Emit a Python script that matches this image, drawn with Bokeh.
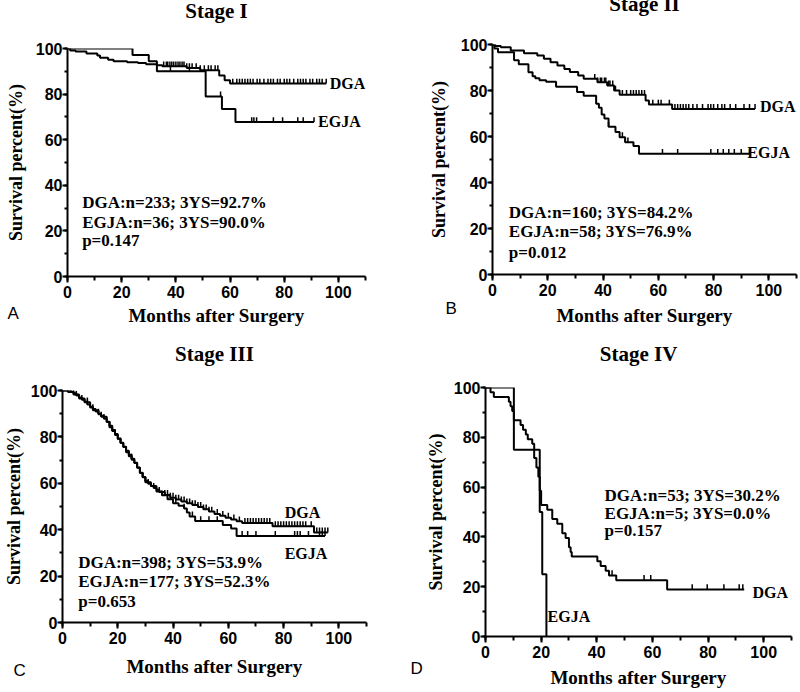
import numpy as np
from bokeh.plotting import figure
from bokeh.models import Range1d, SingleIntervalTicker, FixedTicker, Label, LinearAxis, Title
from bokeh.layouts import column, row
from bokeh.embed import file_html
from bokeh.resources import INLINE

# ---------------- data ----------------
# Stage I
a_dga_t = [0, 1, 3, 7, 11, 12, 15, 17, 22, 26, 29, 33, 35, 44, 49, 56, 58, 60, 95.5]
a_dga_s = [100, 99.1, 98.7, 97.8, 96.9, 95.9, 95.1, 94.4, 94.0, 93.6, 93.1, 92.7, 92.2, 91.4, 90.5, 88.2, 86.1, 84.6, 84.6]
a_dga_c = [35.5, 36.5, 37, 37.8, 38.5, 39.2, 40, 40.8, 41.5, 42.3, 43, 44, 45, 46, 47.5, 49, 50.5, 52, 53,
           54.5, 55.5, 61, 62.5, 63.5, 64.5, 65.5, 66.5, 67.5, 68.5, 70, 71, 72.5, 74, 75, 76, 77.5, 78.5,
           80, 81, 82, 83.5, 85, 86, 87, 88, 89.5, 90.5, 92, 93, 94, 95.5]
a_egja_t = [0, 24, 30, 33, 51, 57, 62, 91]
a_egja_s = [100, 97.2, 94.4, 90.0, 79.0, 73.5, 67.8, 67.8]
a_egja_c = [38, 45, 56.5, 68, 68.8, 69.8, 76, 79.4, 85, 87, 91]

# Stage II
b_dga_t = [0, 1, 3, 6.6, 11.4, 16.2, 18.6, 21, 23.5, 26, 28, 31, 33, 38, 41.5, 44, 46, 55.4, 56.6, 65, 95]
b_dga_s = [100, 99.4, 98.8, 97.4, 96.2, 95.2, 93.8, 92.3, 90.9, 89.4, 88.0, 86.5, 85.1, 83.6, 82.2, 80.0,
           78.1, 75.7, 73.9, 72.0, 72.0]
b_dga_c = [37, 38, 39, 39.5, 40.5, 41, 42, 42.5, 43.5, 44.5, 47, 48.5, 50, 51, 52, 53, 54, 55, 58, 60, 61,
           64, 66, 67, 68, 69, 70, 71, 72.5, 74, 76, 78, 79, 80, 81.5, 83, 84, 86, 88, 91, 93, 95]
b_egja_t = [0, 0.7, 2, 7.8, 9.5, 13, 14.5, 15.5, 17, 19.4, 23, 30.6, 33, 37.5, 38.5, 39.5, 40.5, 42, 44.5,
            46, 48, 51, 53, 55.4, 93]
b_egja_s = [100, 98.3, 96.6, 93.1, 91.4, 87.9, 86.2, 85.3, 84.5, 83.8, 81.6, 79.4, 77.7, 74.2, 72.5, 69.6,
            67.8, 64.2, 62.0, 59.7, 57.5, 55.9, 52.5, 52.5, 52.5]
b_egja_c = [42, 47, 48, 49, 61.5, 67, 79, 81.5, 83.5, 85.5, 87.5, 90, 93]

# Stage III
c_dga_t = [0, 3, 4, 5, 6, 7, 8, 9, 10, 11, 12, 13, 14, 15, 16, 17, 18, 19, 20, 21, 22, 23, 24, 25, 26, 27,
           28, 29, 30, 31, 32, 33, 34, 35, 37, 39, 41, 43, 45, 47, 49, 51, 53, 55, 57, 59, 61, 63, 65, 76,
           91, 96]
c_dga_s = [100, 99.5, 98.8, 97.8, 97.0, 96.0, 95.0, 94.0, 93.0, 92.0, 91.0, 90.0, 89.0, 87.8, 86.5, 84.8,
           83.0, 81.2, 79.3, 77.5, 75.8, 74.0, 72.3, 70.6, 68.8, 66.8, 64.6, 62.6, 61.0, 59.8, 58.8, 58.0,
           57.2, 56.3, 55.0, 53.8, 53.0, 52.2, 51.4, 50.6, 49.8, 48.8, 47.8, 46.8, 46.0, 45.2, 44.4, 43.6,
           42.9, 41.5, 38.8, 38.8]
c_dga_c = [3, 5, 7, 9, 11, 13, 15, 17, 19, 21, 23, 25, 27, 29, 31, 33, 35, 37, 38, 39, 40, 41, 42, 43, 44,
           45, 46, 47, 48, 49, 50, 51, 52, 53, 54, 56, 58, 60, 62, 64, 66, 67, 68, 69, 70, 71, 72, 73, 74,
           75, 77, 78, 79, 80, 81, 82, 83, 84, 85, 86, 87, 88, 90, 92, 93, 94, 95, 96]
c_egja_t = [0, 2, 4, 6, 8, 10, 11, 13, 14, 16, 17, 18, 19, 20, 21, 22, 23, 24, 25, 26, 27, 28, 29, 30, 32,
            34, 36, 38, 40, 42, 44, 45, 46, 48, 58, 61, 63, 95]
c_egja_s = [100, 99.4, 98.3, 96.6, 94.9, 92.7, 91.5, 89.8, 88.7, 86.4, 84.2, 82.5, 80.8, 79.1, 77.4, 75.7,
            73.4, 71.7, 70.1, 68.9, 66.7, 64.4, 62.7, 60.5, 58.8, 56.5, 54.8, 53.1, 51.4, 50.3, 49.1, 47.4,
            45.7, 43.7, 42.0, 40.5, 37.3, 37.3]
c_egja_c = [4, 9, 14, 18, 24, 30, 36, 41, 44, 47, 50, 53, 56, 65, 67, 70, 77, 84, 85, 86, 89, 93, 94, 95]

# Stage IV
d_dga_t = [0, 1.8, 3, 8.4, 9, 9.6, 10.2, 12.6, 13.5, 14.5, 15.2, 16.8, 17.5, 18.3, 19, 19.5, 20, 22.2, 24,
           25.8, 27.6, 28.8, 30, 30.6, 31, 40.2, 41.4, 43.2, 44.4, 47, 65.3, 93]
d_dga_s = [100, 98.1, 96.2, 94.3, 92.5, 90.6, 86.8, 84.9, 83.0, 81.1, 79.2, 77.4, 71.7, 67.9, 64.2, 58.5,
           52.8, 50.9, 47.2, 45.3, 41.5, 39.6, 35.8, 33.9, 32.1, 30.2, 28.3, 26.4, 24.5, 22.6, 18.9, 18.9]
d_dga_c = [45.5, 57, 59.4, 74.3, 79.7, 85.7, 91.2, 92.5]
d_egja_t = [0, 10.2, 19.5, 20.4, 21.9]
d_egja_s = [100, 75, 50, 25, 0]
d_egja_c = []

titles = ["Stage I", "Stage II", "Stage III", "Stage IV"]
letters = ["A", "B", "C", "D"]
stats = [
    ["DGA:n=233; 3YS=92.7%", "EGJA:n=36; 3YS=90.0%", "p=0.147"],
    ["DGA:n=160; 3YS=84.2%", "EGJA:n=58; 3YS=76.9%", "p=0.012"],
    ["DGA:n=398; 3YS=53.9%", "EGJA:n=177; 3YS=52.3%", "p=0.653"],
    ["DGA:n=53; 3YS=30.2%", "EGJA:n=5; 3YS=0.0%", "p=0.157"],
]
x_label = "Months after Surgery"
y_label = "Survival percent(%)"

SERIF = "Liberation Serif"
SANS = "Liberation Sans"


def surv_at(times, surv, pts):
    times = np.asarray(times, dtype=float)
    surv = np.asarray(surv, dtype=float)
    idx = np.searchsorted(times, np.asarray(pts, dtype=float), side="right") - 1
    idx = np.clip(idx, 0, len(surv) - 1)
    return surv[idx]


def panel(w, h, borders, ylab_standoff, xlab_standoff, spacer_standoff, title_standoff, curves, title,
          letter, letter_offset, letter_standoff, stat_lines, stat_x, stat_ys, dga_pos, egja_pos,
          tick_len=2.1):
    left, right, top, bottom = borders
    p = figure(width=w, height=h, x_range=Range1d(0, 110), y_range=Range1d(0, 100),
               output_backend="svg", toolbar_location=None,
               min_border_left=left, min_border_right=right, min_border_top=top,
               min_border_bottom=bottom)
    p.outline_line_color = None
    p.grid.visible = False
    p.background_fill_color = "white"
    p.border_fill_color = "white"

    p.xaxis.ticker = SingleIntervalTicker(interval=20, num_minor_ticks=2)
    p.yaxis.ticker = SingleIntervalTicker(interval=20, num_minor_ticks=2)
    for ax in (p.xaxis[0], p.yaxis[0]):
        ax.axis_line_width = 2
        ax.axis_line_color = "black"
        ax.major_tick_line_width = 2
        ax.minor_tick_line_width = 2
        ax.major_tick_line_color = "black"
        ax.minor_tick_line_color = "black"
        ax.major_tick_in = 0
        ax.minor_tick_in = 0
        ax.major_label_text_font = SANS
        ax.major_label_text_font_style = "bold"
        ax.major_label_text_font_size = "16px"
        ax.major_label_text_color = "black"
        ax.axis_label_text_font = SERIF
        ax.axis_label_text_font_style = "bold"
        ax.axis_label_text_color = "black"
    p.xaxis.axis_label_text_font_size = "19px"
    p.yaxis.axis_label_text_font_size = "18px"
    p.xaxis.major_tick_out = 6
    p.xaxis.minor_tick_out = 4
    p.yaxis.major_tick_out = 5
    p.yaxis.minor_tick_out = 3
    p.xaxis.major_label_standoff = 3
    p.yaxis.major_label_standoff = 0
    p.xaxis.axis_label = x_label
    p.yaxis.axis_label = y_label
    p.xaxis.axis_label_standoff = xlab_standoff
    p.yaxis.axis_label_standoff = ylab_standoff

    # a bare, blank axis fills the top border, the panel title sits beyond it
    spacer = LinearAxis(ticker=FixedTicker(ticks=[]), axis_line_color=None, major_tick_out=0,
                        major_tick_in=0, minor_tick_out=0, minor_tick_in=0, major_label_standoff=0,
                        axis_label=" ", axis_label_standoff=spacer_standoff,
                        axis_label_text_font=SERIF, axis_label_text_font_size="21px")
    p.add_layout(spacer, "above")
    p.add_layout(Title(text=title, align="center", vertical_align="bottom", standoff=title_standoff,
                       text_font=SERIF, text_font_style="bold", text_font_size="21px",
                       text_color="black"), "above")

    # panel letter
    p.add_layout(Title(text=letter, align="left", vertical_align="top", offset=letter_offset,
                       standoff=letter_standoff, text_font=SANS, text_font_style="normal",
                       text_font_size="17px", text_color="black"), "below")

    for t, s, c in curves:
        p.step(x=t, y=s, mode="after", line_width=2, line_color="black")
        if len(c):
            sv = surv_at(t, s, c)
            p.segment(x0=c, y0=sv, x1=c, y1=sv + tick_len, line_width=1.5, line_color="black")

    for line, yy in zip(stat_lines, stat_ys):
        p.add_layout(Label(x=stat_x, y=yy, text=line, text_font=SERIF, text_font_style="bold",
                           text_font_size="17px", text_baseline="middle", text_color="black"))
    p.add_layout(Label(x=dga_pos[0], y=dga_pos[1], text="DGA", text_font=SERIF, text_font_style="bold",
                       text_font_size="16px", text_baseline="middle", text_color="black"))
    p.add_layout(Label(x=egja_pos[0], y=egja_pos[1], text="EGJA", text_font=SERIF,
                       text_font_style="bold", text_font_size="16px", text_baseline="middle",
                       text_color="black"))
    return p


pa = panel(400, 330, (67, 35, 48, 54), 7, 4, 21, -44,
           [(a_dga_t, a_dga_s, a_dga_c), (a_egja_t, a_egja_s, a_egja_c)],
           titles[0], letters[0], -60, -50,
           stats[0], 5.4, [32.5, 23.7, 15.8], (96.8, 84.6), (92.5, 68))
pb = panel(400, 330, (92, 4, 44, 56), 9, 6, 17, -30,
           [(b_dga_t, b_dga_s, b_dga_c), (b_egja_t, b_egja_s, b_egja_c)],
           titles[1], letters[1], -47, -60,
           stats[1], 5.9, [27, 18.7, 9.6], (96.8, 73), (92.2, 53))
pc = panel(400, 351, (62, 34, 60, 59), 4, 9, 33, -70,
           [(c_dga_t, c_dga_s, c_dga_c), (c_egja_t, c_egja_s, c_egja_c)],
           titles[2], letters[2], -49, -38,
           stats[2], 5.7, [25.9, 17.7, 9.1], (80.4, 47.5), (80.4, 29.8))
pd_ = panel(400, 362, (85, 9, 57, 56), 5, 6, 30, -70,
            [(d_dga_t, d_dga_s, d_dga_c), (d_egja_t, d_egja_s, d_egja_c)],
            titles[3], letters[3], -75, -63,
            stats[3], 42.8, [56.7, 49.5, 42.6], (96, 17.7), (22.3, 8))

# each figure wrapped on its own so that the frames of neighbours are not aligned
layout = column(row(column(pa), column(pb)), row(column(pc), column(pd_)))
open("out.html", "w").write(file_html(layout, INLINE))
